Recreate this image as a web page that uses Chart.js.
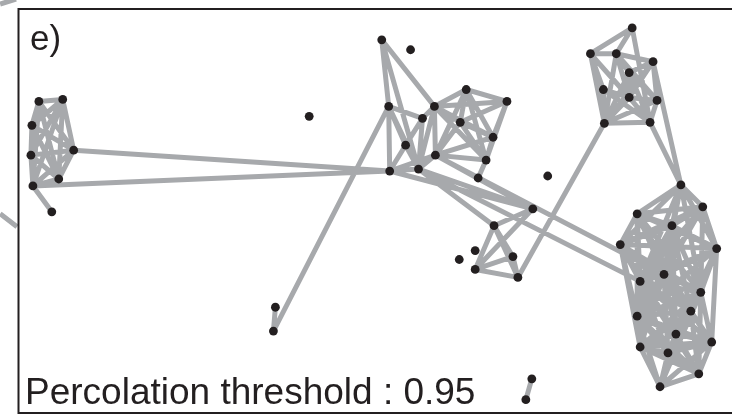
<!DOCTYPE html>
<html>
<head>
<meta charset="utf-8">
<title>Percolation network</title>
<script src="https://cdn.jsdelivr.net/npm/chart.js@4.4.1/dist/chart.umd.min.js"></script>
<style>
  html, body { margin: 0; padding: 0; background: #ffffff; }
  #wrap { width: 732px; height: 417px; }
</style>
</head>
<body>
<div id="wrap"><canvas id="net" width="732" height="417"></canvas></div>
<script>
// Node layout (layout units, y grows downward)
const nodeIds = [
  "L1","L2","L3","L4","L5","L6","L7","L8",
  "T","X","S","A","B","C","D","E","F","G","I","J","K","H","M","N",
  "U","P","Q1","Q2","Q3","Q4","Q5","Q6",
  "W1","W2","Z1","Z2",
  "R1","R2","R3","R4","R5","R6","R7","R8","R9","R10",
  "B1","B2","B3","B4","B5","B6","B7","B8","B9","B10","B11","B12","B13","B14","B15","B16","B17"
];
const nodeX = [
  39, 63, 32, 74, 31, 59, 33, 52,
  384, 413, 311, 391, 437, 469, 510, 425, 463, 496, 408, 438, 489, 392, 421, 481,
  551, 536, 497, 478, 462, 516, 478, 521,
  277, 275, 535, 529,
  636, 594, 620, 657, 633, 607, 633, 661, 608, 654,
  685, 707, 641, 676, 624, 721, 668, 644, 705, 641, 695, 680, 716, 644, 672, 703, 664
];
const nodeY = [
  102, 100, 126, 151, 156, 180, 187, 213,
  40, 50, 117, 107, 107, 90, 102, 119, 123, 138, 146, 156, 161, 172, 170, 179,
  177, 210, 227, 252, 261, 258, 271, 279,
  309, 333, 381, 402,
  28, 54, 54, 62, 73, 90, 98, 101, 124, 123,
  186, 208, 215, 227, 246, 250, 276, 283, 294, 318, 313, 336, 344, 349, 355, 376, 389
];

// Links above the percolation threshold
const edges = [
  // western group
  ["L1","L2"],["L1","L3"],["L1","L4"],["L1","L5"],["L1","L6"],["L1","L7"],
  ["L2","L3"],["L2","L4"],["L2","L5"],["L2","L6"],["L2","L7"],
  ["L3","L4"],["L3","L5"],["L3","L6"],["L3","L7"],
  ["L4","L5"],["L4","L6"],["L4","L7"],
  ["L5","L6"],["L5","L7"],["L6","L7"],["L7","L8"],
  ["L4","H"],["L7","H"],
  // central group
  ["T","A"],["T","B"],["T","M"],
  ["A","E"],["A","H"],["A","I"],["A","M"],["A","W2"],
  ["E","I"],["H","I"],["E","B"],["E","M"],["I","M"],["B","M"],["B","J"],
  ["B","C"],["B","D"],["B","F"],["B","G"],["B","K"],
  ["C","D"],["C","F"],["C","G"],["C","J"],["C","K"],
  ["D","F"],["D","G"],["D","K"],
  ["F","G"],["F","J"],["F","K"],
  ["G","J"],["G","K"],["J","K"],["J","H"],["J","M"],["K","N"],["M","H"],
  // links towards the south-east
  ["H","P"],["M","P"],["J","P"],["N","P"],["M","Q1"],["J","B7"],["M","B8"],
  ["Q1","P"],["Q1","Q5"],["Q1","Q6"],["Q1","Q4"],["Q5","P"],["Q5","Q4"],["Q5","Q6"],["Q4","Q6"],
  ["Q6","R9"],
  ["W1","W2"],["Z1","Z2"],
  // north-eastern group
  ["R1","R2"],["R1","R3"],["R1","R10"],
  ["R2","R3"],["R2","R6"],["R2","R7"],["R2","R9"],
  ["R3","R4"],["R3","R5"],["R3","R7"],["R3","R9"],["R3","R8"],
  ["R4","R5"],["R4","R7"],["R4","R8"],["R4","R9"],
  ["R5","R7"],["R5","R8"],["R5","R10"],["R5","R9"],
  ["R6","R7"],["R6","R9"],["R6","R10"],
  ["R7","R8"],["R7","R9"],["R7","R10"],
  ["R8","R10"],["R8","R9"],["R9","R10"],
  ["R4","B1"],["R10","B1"],
  // eastern group
  ["B1","B2"],["B1","B3"],["B1","B4"],["B1","B5"],["B1","B6"],["B1","B7"],["B1","B8"],["B1","B9"],
  ["B2","B3"],["B2","B4"],["B2","B5"],["B2","B6"],["B2","B7"],["B2","B8"],["B2","B9"],["B2","B10"],
  ["B3","B4"],["B3","B5"],["B3","B6"],["B3","B7"],["B3","B8"],["B3","B9"],["B3","B10"],["B3","B11"],
  ["B4","B5"],["B4","B6"],["B4","B7"],["B4","B8"],["B4","B9"],["B4","B10"],["B4","B11"],["B4","B12"],
  ["B5","B6"],["B5","B7"],["B5","B8"],["B5","B9"],["B5","B10"],["B5","B11"],["B5","B14"],["B5","B12"],
  ["B6","B7"],["B6","B8"],["B6","B9"],["B6","B11"],["B6","B13"],["B6","B10"],["B6","B12"],
  ["B7","B8"],["B7","B9"],["B7","B10"],["B7","B11"],["B7","B12"],["B7","B14"],["B7","B15"],["B7","B13"],
  ["B8","B9"],["B8","B10"],["B8","B11"],["B8","B12"],["B8","B13"],["B8","B14"],["B8","B15"],["B8","B16"],
  ["B9","B10"],["B9","B11"],["B9","B12"],["B9","B13"],["B9","B14"],["B9","B15"],["B9","B16"],["B9","B17"],
  ["B10","B11"],["B10","B12"],["B10","B13"],["B10","B14"],["B10","B15"],["B10","B16"],["B10","B17"],
  ["B11","B12"],["B11","B13"],["B11","B14"],["B11","B15"],["B11","B16"],["B11","B17"],
  ["B12","B13"],["B12","B14"],["B12","B15"],["B12","B16"],["B12","B17"],
  ["B13","B14"],["B13","B15"],["B13","B16"],["B13","B17"],
  ["B14","B15"],["B14","B16"],["B14","B17"],
  ["B15","B16"],["B15","B17"],["B16","B17"]
];

// Connector strokes from the neighbouring panels, running past the frame
const connectorX = [0, 16, null, 0, 17];
const connectorY = [4, -1, null, 215, 228];

const panelLabel = "e)";
const thresholdLabel = "Percolation threshold : 0.95";

const EDGE_GREY = "#a7a9ac";
const INK = "#231f20";

const index = {};
nodeIds.forEach((id, i) => { index[id] = i; });

const edgeSegments = [];
edges.forEach(([a, b]) => {
  const i = index[a], j = index[b];
  edgeSegments.push({ x: nodeX[i], y: nodeY[i] });
  edgeSegments.push({ x: nodeX[j], y: nodeY[j] });
  edgeSegments.push({ x: nodeX[j], y: null });
});

const nodePoints = nodeIds.map((id, i) => ({ x: nodeX[i], y: nodeY[i] }));

const connectorPoints = connectorX.map((x, i) => ({ x: x === null ? 0 : x, y: connectorY[i] }));

const framePlugin = {
  id: "panelFrame",
  afterDraw(chart) {
    const { ctx, chartArea } = chart;
    ctx.save();
    ctx.strokeStyle = INK;
    ctx.lineWidth = 2;
    ctx.beginPath();
    ctx.moveTo(chart.width + 2, chartArea.top);
    ctx.lineTo(chartArea.left + 0.5, chartArea.top);
    ctx.lineTo(chartArea.left + 0.5, chartArea.bottom + 0.5);
    ctx.lineTo(chart.width + 2, chartArea.bottom + 0.5);
    ctx.stroke();

    ctx.fillStyle = INK;
    ctx.textBaseline = "alphabetic";
    ctx.textAlign = "left";
    ctx.font = "35px 'Liberation Sans', Arial, sans-serif";
    ctx.fillText(panelLabel, chartArea.left + 12, chartArea.top + 41);
    ctx.font = "37px 'Liberation Sans', Arial, sans-serif";
    ctx.fillText(thresholdLabel, chartArea.left + 7, chartArea.bottom - 9);
    ctx.restore();
  }
};

new Chart(document.getElementById("net"), {
  type: "scatter",
  data: {
    datasets: [
      {
        label: "nodes",
        data: nodePoints,
        pointRadius: 4.4,
        pointHoverRadius: 4.4,
        pointBackgroundColor: INK,
        pointBorderWidth: 0,
        showLine: false,
        order: 0
      },
      {
        label: "links",
        data: edgeSegments,
        showLine: true,
        spanGaps: false,
        borderColor: EDGE_GREY,
        borderWidth: 5,
        borderCapStyle: "round",
        pointRadius: 0,
        pointHoverRadius: 0,
        tension: 0,
        order: 2
      },
      {
        label: "connectors",
        data: connectorPoints,
        showLine: true,
        spanGaps: false,
        borderColor: EDGE_GREY,
        borderWidth: 5,
        pointRadius: 0,
        pointHoverRadius: 0,
        clip: false,
        order: 3
      }
    ]
  },
  options: {
    responsive: false,
    animation: false,
    devicePixelRatio: 1,
    layout: { padding: { left: 18, top: 9, right: 0, bottom: 2 } },
    scales: {
      x: { type: "linear", min: 18, max: 732, display: false },
      y: { type: "linear", min: 9, max: 415, reverse: true, display: false }
    },
    plugins: {
      legend: { display: false },
      tooltip: { enabled: false }
    },
    events: []
  },
  plugins: [framePlugin]
});
</script>
</body>
</html>
